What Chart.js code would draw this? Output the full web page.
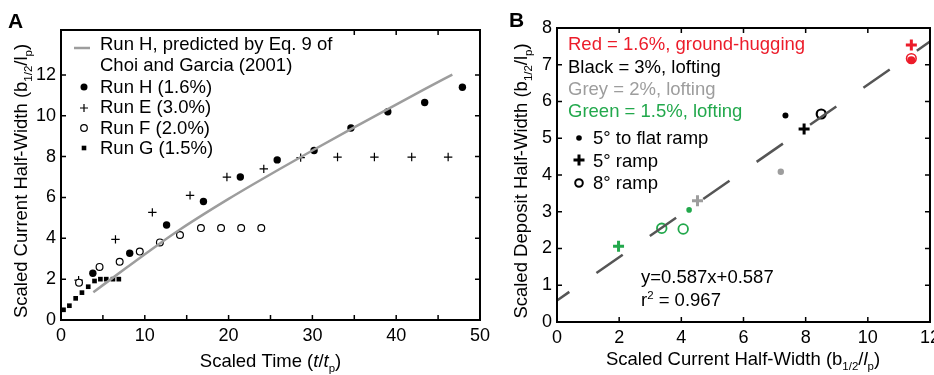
<!DOCTYPE html>
<html><head><meta charset="utf-8">
<script src="https://cdn.jsdelivr.net/npm/chart.js@4.4.1/dist/chart.umd.min.js"></script>
<style>
html,body{margin:0;padding:0;background:#fff;overflow:hidden;width:934px;height:375px}
#ca{position:absolute;left:0;top:0}
#cb{position:absolute;left:495px;top:0}
</style></head><body>
<canvas id="ca" width="495" height="375"></canvas>
<canvas id="cb" width="450" height="375"></canvas>
<script>
// ---------- Panel A data ----------
const xTicksA = [0, 10, 20, 30, 40, 50];
const xMarksA = [0, 5, 10, 15, 20, 25, 30, 35, 40, 45, 50];
const xTopMarksA = [35, 40, 45];
const yTicksA = [0, 2, 4, 6, 8, 10, 12];
const predictedH = [[3.86,1.36],[8,2.62],[11.8,3.75],[14.2,4.43],[17,5.17],[20,5.93],[23,6.66],[26,7.37],[30,8.3],[34.6,9.35],[39,10.33],[43.4,11.3],[46.7,12.02]];
const runH = [[3.8,2.29],[8.2,3.27],[12.6,4.65],[17.0,5.8],[21.4,7.0],[25.8,7.84],[30.2,8.3],[34.6,9.4],[39.0,10.2],[43.4,10.65],[47.9,11.4]];
const runE = [[2.1,1.95],[6.5,3.95],[10.9,5.27],[15.4,6.1],[19.8,7.0],[24.2,7.4],[28.6,7.95],[33.0,7.98],[37.4,7.98],[41.85,7.98],[46.2,7.98]];
const runF = [[2.15,1.83],[4.6,2.6],[7.0,2.85],[9.4,3.35],[11.8,3.8],[14.2,4.16],[16.7,4.5],[19.1,4.5],[21.5,4.5],[23.9,4.5]];
const runG = [[0.3,0.5],[1.0,0.7],[1.75,1.06],[2.5,1.34],[3.25,1.63],[4.0,1.91],[4.7,2.0],[5.4,2.0],[6.2,2.0],[6.9,2.0]];
const legendA = ['Run H, predicted by Eq. 9 of', 'Choi and Garcia (2001)', 'Run H (1.6%)', 'Run E (3.0%)', 'Run F (2.0%)', 'Run G (1.5%)'];

// ---------- Panel B data ----------
const xTicksB = [0, 2, 4, 6, 8, 10, 12];
const yTicksB = [0, 1, 2, 3, 4, 5, 6, 7, 8];
const fitLine = [[0,0.587],[12,7.631]];
const redPlus = [[11.4,7.54]];
const redDot = [[11.4,7.12]];
const redRing = [[11.4,7.17]];
const blackDot = [[7.35,5.62]];
const blackPlus = [[7.95,5.25]];
const blackRing = [[8.5,5.66]];
const greyDot = [[7.2,4.09]];
const greyPlus = [[4.52,3.3]];
const greenDot = [[4.25,3.05]];
const greenRing = [[3.37,2.55],[4.06,2.53]];
const greenPlus = [[1.98,2.06]];
const legendB = ['Red = 1.6%, ground-hugging', 'Black = 3%, lofting', 'Grey = 2%, lofting', 'Green = 1.5%, lofting'];
const markerLegendB = ['5\u00B0 to flat ramp', '5\u00B0 ramp', '8\u00B0 ramp'];
const fitText = ['y=0.587x+0.587', '= 0.967'];

// ---------- styling ----------
const FONT = "'Liberation Sans', Arial, Helvetica, sans-serif";
const RED = '#ec1c2a', GREEN = '#22a84c', GREY = '#9d9d9d';
Chart.defaults.font.family = FONT;
Chart.defaults.color = '#000';

function drawRich(ctx, segs, x, y, size, align) {
  let total = 0;
  const items = segs.map(([t, st]) => {
    const s = st || '';
    const small = s.includes('s') || s.includes('u');
    const sz = small ? size * 0.62 : size;
    const font = (s.includes('i') ? 'italic ' : '') + sz + 'px ' + FONT;
    ctx.font = font;
    const w = ctx.measureText(t).width;
    total += w;
    return {t, font, w, dy: s.includes('s') ? size * 0.25 : (s.includes('u') ? -size * 0.38 : 0)};
  });
  let cx = align === 'center' ? x - total / 2 : x;
  ctx.textAlign = 'left'; ctx.textBaseline = 'alphabetic';
  for (const it of items) { ctx.font = it.font; ctx.fillText(it.t, cx, y + it.dy); cx += it.w; }
}

function makeFrame(xMarks, xTop, yMarks, overlay) {
  return {
    id: 'frame',
    beforeDatasetsDraw(chart) {
      const {ctx, chartArea: a, scales: {x, y}} = chart;
      const len = 5;
      ctx.save(); ctx.strokeStyle = '#000'; ctx.lineWidth = 1.5; ctx.beginPath();
      for (const v of xMarks) { const p = x.getPixelForValue(v); ctx.moveTo(p, a.bottom); ctx.lineTo(p, a.bottom - len); }
      for (const v of xTop) { const p = x.getPixelForValue(v); ctx.moveTo(p, a.top); ctx.lineTo(p, a.top + len); }
      for (const v of yMarks) { const p = y.getPixelForValue(v); ctx.moveTo(a.left, p); ctx.lineTo(a.left + len, p); ctx.moveTo(a.right, p); ctx.lineTo(a.right - len, p); }
      ctx.stroke(); ctx.restore();
    },
    afterDraw(chart) {
      const {ctx, chartArea: a} = chart;
      ctx.save();
      overlay(ctx, chart);
      ctx.lineWidth = 2; ctx.strokeStyle = '#000';
      ctx.strokeRect(a.left, a.top, a.right - a.left, a.bottom - a.top);
      ctx.restore();
    }
  };
}

function scale(min, max, ticks, fit) {
  return {
    type: 'linear', min, max,
    afterBuildTicks: s => { s.ticks = ticks.map(v => ({value: v})); },
    afterFit: fit,
    grid: {display: false, drawTicks: false},
    border: {display: false},
    ticks: {color: '#000', font: {size: 18}, padding: 5, autoSkip: false, maxRotation: 0, callback: v => String(v)}
  };
}

const pts = arr => arr.map(([x, y]) => ({x, y}));
function mk(data, style, r, color, fill, bw) {
  return {data: pts(data), showLine: false, pointStyle: style, pointRadius: r, pointHoverRadius: r,
    pointBackgroundColor: fill, pointBorderColor: color, pointBorderWidth: bw};
}

// ---------- Panel A ----------
const overlayA = (ctx, chart) => {
  ctx.fillStyle = '#000';
  ctx.font = 'bold 21px ' + FONT; ctx.textAlign = 'left'; ctx.textBaseline = 'alphabetic';
  ctx.fillText('A', 8, 28);
  // legend
  const base = [50, 71, 92.5, 113, 133.5, 154];
  ctx.font = '18.5px ' + FONT;
  legendA.forEach((t, i) => ctx.fillText(t, 100, base[i]));
  ctx.strokeStyle = GREY; ctx.lineWidth = 2.5;
  ctx.beginPath(); ctx.moveTo(74, 48); ctx.lineTo(90, 48); ctx.stroke();
  ctx.fillStyle = '#000';
  ctx.beginPath(); ctx.arc(84, 87, 3.5, 0, 2 * Math.PI); ctx.fill();
  ctx.strokeStyle = '#000'; ctx.lineWidth = 1.2;
  ctx.beginPath(); ctx.moveTo(80, 108); ctx.lineTo(88, 108); ctx.moveTo(84, 104); ctx.lineTo(84, 112); ctx.stroke();
  ctx.beginPath(); ctx.arc(84, 128, 3.3, 0, 2 * Math.PI); ctx.stroke();
  ctx.fillRect(81.7, 145.7, 4.6, 4.6);
  // axis titles
  drawRich(ctx, [['Scaled Time ('], ['t', 'i'], ['/'], ['t', 'i'], ['p', 's'], [')']], 270.5, 367, 18.5, 'center');
  ctx.save(); ctx.translate(27, 181); ctx.rotate(-Math.PI / 2);
  drawRich(ctx, [['Scaled Current Half-Width (b'], ['1/2', 's'], ['/l'], ['p', 's'], [')']], 0, 0, 18.5, 'center');
  ctx.restore();
};

new Chart(document.getElementById('ca'), {
  type: 'scatter',
  data: {datasets: [
    {data: pts(predictedH), showLine: true, borderColor: GREY, borderWidth: 2.5, pointRadius: 0, cubicInterpolationMode: 'monotone'},
    mk(runG, 'rect', 3.3, '#000', '#000', 0),
    mk(runF, 'circle', 3.4, '#000', '#fff', 1.2),
    mk(runE, 'cross', 4.2, '#000', '#000', 1.2),
    mk(runH, 'circle', 3.7, '#000', '#000', 0)
  ]},
  options: {
    responsive: false, animation: false, events: [],
    layout: {padding: {left: 0, top: 30, right: 15, bottom: 0}},
    plugins: {legend: {display: false}, tooltip: {enabled: false}},
    scales: {
      x: scale(0, 50, xTicksA, s => { s.height = 55; }),
      y: scale(0, 14.2, yTicksA, s => { s.width = 61; })
    }
  },
  plugins: [makeFrame(xMarksA, xTopMarksA, yTicksA, overlayA)]
});

// ---------- Panel B ----------
const overlayB = (ctx, chart) => {
  ctx.fillStyle = '#000';
  ctx.font = 'bold 21px ' + FONT; ctx.textAlign = 'left'; ctx.textBaseline = 'alphabetic';
  ctx.fillText('B', 14, 27);
  ctx.font = '18.5px ' + FONT;
  const cols = [RED, '#000', GREY, GREEN];
  const base = [50, 73, 95, 117];
  legendB.forEach((t, i) => { ctx.fillStyle = cols[i]; ctx.fillText(t, 73, base[i]); });
  ctx.fillStyle = '#000';
  const mb = [144, 167, 189];
  markerLegendB.forEach((t, i) => ctx.fillText(t, 98, mb[i]));
  ctx.beginPath(); ctx.arc(84, 138, 2.8, 0, 2 * Math.PI); ctx.fill();
  ctx.strokeStyle = '#000'; ctx.lineWidth = 3;
  ctx.beginPath(); ctx.moveTo(78.5, 160); ctx.lineTo(89.5, 160); ctx.moveTo(84, 154.5); ctx.lineTo(84, 165.5); ctx.stroke();
  ctx.lineWidth = 2; ctx.beginPath(); ctx.arc(84, 183, 3.8, 0, 2 * Math.PI); ctx.stroke();
  // fit text
  ctx.fillText(fitText[0], 146, 283);
  drawRich(ctx, [['r'], ['2', 'u'], [' ' + fitText[1]]], 146, 306, 18.5, 'left');
  // axis titles
  drawRich(ctx, [['Scaled Current Half-Width (b'], ['1/2', 's'], ['/'], ['l', 'i'], ['p', 's'], [')']], 248, 365, 18.5, 'center');
  ctx.save(); ctx.translate(32, 181); ctx.rotate(-Math.PI / 2);
  drawRich(ctx, [['Scaled Deposit Half-Width (b'], ['1/2', 's'], ['/l'], ['p', 's'], [')']], 0, 0, 18.5, 'center');
  ctx.restore();
};

new Chart(document.getElementById('cb'), {
  type: 'scatter',
  data: {datasets: [
    {data: pts(fitLine), showLine: true, borderColor: '#555', borderWidth: 2.5, borderDash: [32, 33], borderDashOffset: 17, pointRadius: 0},
    mk(greyDot, 'circle', 3.2, GREY, GREY, 0),
    mk(greyPlus, 'cross', 5.5, GREY, GREY, 3),
    mk(greenDot, 'circle', 2.8, GREEN, GREEN, 0),
    mk(greenRing, 'circle', 4.8, GREEN, '#fff', 1.8),
    mk(greenPlus, 'cross', 5.5, GREEN, GREEN, 3),
    mk(blackDot, 'circle', 3, '#000', '#000', 0),
    mk(blackPlus, 'cross', 5.5, '#000', '#000', 3),
    mk(blackRing, 'circle', 4.5, '#000', '#fff', 2.2),
    mk(redRing, 'circle', 4.8, RED, 'rgba(0,0,0,0)', 1.6),
    mk(redDot, 'circle', 4, RED, RED, 0),
    mk(redPlus, 'cross', 5.5, RED, RED, 3)
  ]},
  options: {
    responsive: false, animation: false, events: [],
    layout: {padding: {left: 0, top: 28, right: 15, bottom: 0}},
    plugins: {legend: {display: false}, tooltip: {enabled: false}},
    scales: {
      x: scale(0, 12, xTicksB, s => { s.height = 53; }),
      y: scale(0, 8, yTicksB, s => { s.width = 62; })
    }
  },
  plugins: [makeFrame(xTicksB, xTicksB, yTicksB, overlayB)]
});
</script>
</body></html>
